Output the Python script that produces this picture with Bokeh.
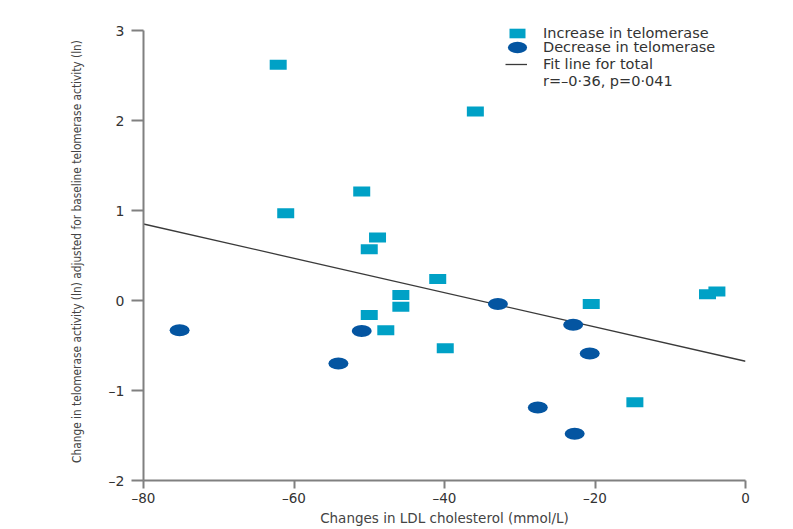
from bokeh.plotting import figure
from bokeh.models import (Range1d, FixedTicker, Legend, LegendItem,
                          ColumnDataSource)
from bokeh.embed import file_html
from bokeh.resources import INLINE

# ---------------- data ----------------
inc_x = [-62.1, -61.1, -51.0, -48.9, -50.0, -35.9, -40.9, -45.8, -45.8,
         -50.0, -47.8, -39.9, -20.5, -14.7, -5.05, -3.8]
inc_y = [2.62, 0.97, 1.21, 0.70, 0.57, 2.10, 0.24, 0.06, -0.07,
         -0.16, -0.33, -0.53, -0.04, -1.13, 0.07, 0.10]

dec_x = [-75.2, -54.1, -51.0, -32.9, -27.6, -22.9, -20.7, -22.7]
dec_y = [-0.33, -0.70, -0.34, -0.04, -1.19, -0.27, -0.59, -1.48]

fit_x = [-80, 0]
fit_y = [0.85, -0.675]

x_ticks = [-80, -60, -40, -20, 0]
x_tick_labels = ["–80", "–60", "–40", "–20", "0"]
y_ticks = [-2, -1, 0, 1, 2, 3]
y_tick_labels = ["–2", "–1", "0", "1", "2", "3"]

legend_labels = ["Increase in telomerase", "Decrease in telomerase",
                 "Fit line for total", "r=–0·36, p=0·041"]
x_title = "Changes in LDL cholesterol (mmol/L)"
y_title = ("Change in telomerase activity (ln) adjusted for baseline "
           "telomerase activity (ln)")

INC_COLOR = "#00a1c6"
DEC_COLOR = "#0455a1"
TEXT_COLOR = "#333333"
AXIS_COLOR = "#808080"
FONT = "DejaVu Sans"

# ---------------- figure ----------------
# y range reaches a little above 3 so the legend fits in the frame;
# the axis itself is bounded to -2..3
p = figure(width=785, height=528, output_backend="svg", toolbar_location=None,
           x_range=Range1d(-80, 0), y_range=Range1d(-2, 3.089),
           min_border_left=143, min_border_right=40,
           min_border_top=22, min_border_bottom=48, title=None)
p.outline_line_color = None
p.xgrid.visible = False
p.ygrid.visible = False
p.background_fill_color = "white"
p.border_fill_color = "white"

xa = p.xaxis[0]
ya = p.yaxis[0]
xa.ticker = FixedTicker(ticks=x_ticks)
ya.ticker = FixedTicker(ticks=y_ticks)
ya.bounds = (-2, 3)
xa.major_label_overrides = dict(zip(x_ticks, x_tick_labels))
ya.major_label_overrides = dict(zip(y_ticks, y_tick_labels))
for ax in (xa, ya):
    ax.axis_line_color = AXIS_COLOR
    ax.axis_line_width = 2
    ax.major_tick_line_color = AXIS_COLOR
    ax.major_tick_line_width = 2
    ax.minor_tick_line_color = None
    ax.major_tick_in = 0
    ax.major_label_text_color = TEXT_COLOR
    ax.major_label_text_font = FONT
    ax.major_label_text_font_size = "14px"
xa.major_label_text_font_size = "13.5px"
xa.major_tick_out = 8
xa.major_label_standoff = 1
ya.major_tick_out = 12
ya.major_label_standoff = 7

xa.axis_label = x_title
xa.axis_label_text_font = FONT
xa.axis_label_text_font_size = "13.5px"
xa.axis_label_text_font_style = "normal"
xa.axis_label_text_color = "#444444"
xa.axis_label_standoff = 1

ya.axis_label = y_title
ya.axis_label_text_font = "'Liberation Sans Narrow', 'DejaVu Sans Condensed', sans-serif"
ya.axis_label_text_font_size = "11.8px"
ya.axis_label_text_font_style = "normal"
ya.axis_label_text_color = "#444444"
ya.axis_label_standoff = 22

# ---------------- glyphs ----------------
src_inc = ColumnDataSource(dict(x=inc_x, y=inc_y))
src_dec = ColumnDataSource(dict(x=dec_x, y=dec_y))

r_fit = p.line(fit_x, fit_y, line_color="#3a3a3a", line_width=1.3)
r_inc = p.rect(x="x", y="y", width=17, height=10, width_units="screen",
               height_units="screen", fill_color=INC_COLOR, line_color=None,
               source=src_inc)
r_dec = p.ellipse(x="x", y="y", width=20, height=12, width_units="screen",
                  height_units="screen", fill_color=DEC_COLOR, line_color=None,
                  source=src_dec)
r_none = p.line(x=[], y=[], line_alpha=0)

# ---------------- legend (one row per legend for precise placement) ----------------
def make_legend(label, renderer, loc, gw, gh, standoff):
    lg = Legend(items=[LegendItem(label=label, renderers=[renderer])],
                location=loc, glyph_width=gw, glyph_height=gh,
                label_standoff=standoff, label_height=10, label_width=10,
                padding=0, margin=0, spacing=0,
                border_line_color=None, background_fill_alpha=0,
                label_text_font=FONT, label_text_font_size="14.5px",
                label_text_color=TEXT_COLOR)
    p.add_layout(lg)

make_legend(legend_labels[0], r_inc, (364, 439.5), 20, 12, 16)
make_legend(legend_labels[1], r_dec, (362, 421), 24, 24, 14)
make_legend(legend_labels[2], r_fit, (362, 408), 22, 12, 16)
make_legend(legend_labels[3], r_none, (362, 391), 22, 12, 16)

open("out.html", "w").write(file_html(p, INLINE))
